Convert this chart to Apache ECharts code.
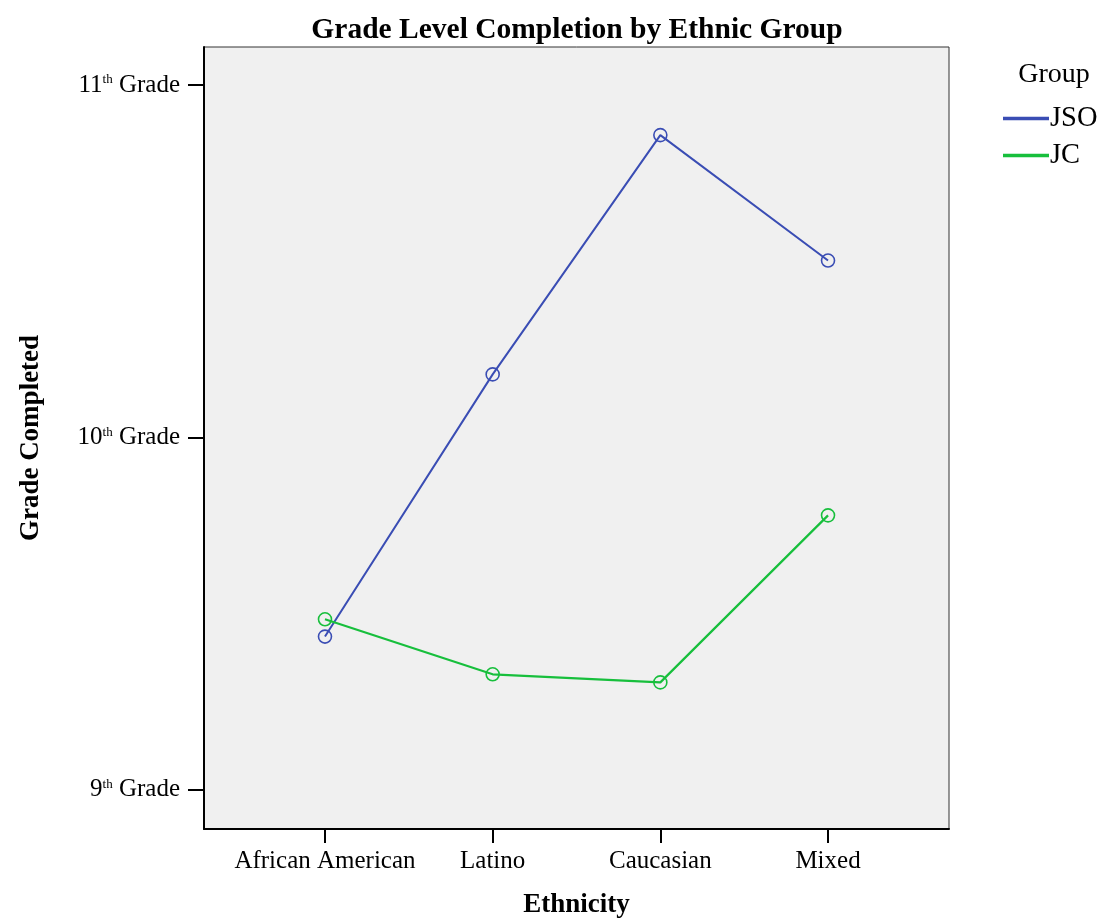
<!DOCTYPE html>
<html>
<head>
<meta charset="utf-8">
<script src="https://cdn.jsdelivr.net/npm/echarts@6/dist/echarts.min.js"></script>
<style>
  html, body { margin: 0; padding: 0; background: #fff; }
  #chart { width: 1102px; height: 919px; }
</style>
</head>
<body>
<div id="chart"></div>
<script>
var categories = ['African American', 'Latino', 'Caucasian', 'Mixed'];
var gradeTicks = [9, 10, 11];
var jsoValues = [9.435, 10.179, 10.858, 10.502];
var jcValues = [9.484, 9.328, 9.305, 9.779];

var serif = '"Liberation Serif", "Times New Roman", serif';
var blue = '#3a4db4';
var green = '#17bf3c';

function toPoints(values) {
    return values.map(function (v, i) { return [i, v]; });
}

var chartDom = document.getElementById('chart');
var myChart = echarts.init(chartDom);
var option = {
    backgroundColor: '#fff',
    animation: false,
    title: [
        {
            text: 'Grade Level Completion by Ethnic Group',
            left: 572,
            top: 10,
            textAlign: 'center',
            textStyle: { fontFamily: serif, fontWeight: 'bold', fontSize: 29.5, color: '#000' }
        },
        {
            text: 'Group',
            left: 1049,
            top: 56,
            textAlign: 'center',
            textStyle: { fontFamily: serif, fontWeight: 'normal', fontSize: 28, color: '#000' }
        }
    ],
    legend: {
        orient: 'vertical',
        left: 998,
        top: 99,
        itemWidth: 44,
        itemHeight: 1.6,
        itemGap: 8,
        icon: 'rect',
        textStyle: { fontFamily: serif, fontSize: 28.5, color: '#000', padding: [0, 0, 0, -3] },
        data: [
            { name: 'JSO', itemStyle: { color: blue } },
            { name: 'JC', itemStyle: { color: green } }
        ]
    },
    grid: {
        left: 204,
        right: 153,
        top: 47,
        bottom: 90,
        outerBoundsMode: 'none',
        containLabel: false,
        show: true,
        backgroundColor: '#f0f0f0',
        borderColor: '#333',
        borderWidth: 1
    },
    xAxis: {
        type: 'value',
        min: -0.7215,
        max: 3.7215,
        name: 'Ethnicity',
        nameLocation: 'middle',
        nameGap: 63,
        nameTextStyle: { fontFamily: serif, fontWeight: 'bold', fontSize: 27, color: '#000' },
        splitLine: { show: false },
        axisLine: { show: true, onZero: false, lineStyle: { color: '#000', width: 2 } },
        axisTick: {
            show: true,
            length: 14,
            customValues: [0, 1, 2, 3],
            lineStyle: { color: '#000', width: 2 }
        },
        axisLabel: {
            customValues: [0, 1, 2, 3],
            margin: 20,
            fontFamily: serif,
            fontSize: 25,
            color: '#000',
            formatter: function (v) { return categories[Math.round(v)]; }
        }
    },
    yAxis: {
        type: 'value',
        min: 8.889,
        max: 11.108,
        name: 'Grade Completed',
        nameLocation: 'middle',
        nameGap: 159,
        nameRotate: 90,
        nameTextStyle: { fontFamily: serif, fontWeight: 'bold', fontSize: 27, color: '#000' },
        splitLine: { show: false },
        axisLine: { show: true, onZero: false, lineStyle: { color: '#000', width: 2 } },
        axisTick: {
            show: true,
            length: 16,
            customValues: gradeTicks,
            lineStyle: { color: '#000', width: 2 }
        },
        axisLabel: {
            customValues: gradeTicks,
            margin: 24,
            fontFamily: serif,
            color: '#000',
            formatter: function (v) {
                return '{n|' + Math.round(v) + '}{s|th}{n| Grade}';
            },
            rich: {
                n: { fontFamily: serif, fontSize: 25, color: '#000' },
                s: { fontFamily: serif, fontSize: 13, color: '#000', padding: [0, 0, 10, 0] }
            }
        }
    },
    series: [
        {
            name: 'JSO',
            type: 'line',
            data: toPoints(jsoValues),
            symbol: 'circle',
            symbolSize: 13,
            color: blue,
            lineStyle: { width: 2, color: blue },
            itemStyle: { color: 'rgba(0,0,0,0)', borderColor: blue, borderWidth: 1.6 }
        },
        {
            name: 'JC',
            type: 'line',
            data: toPoints(jcValues),
            symbol: 'circle',
            symbolSize: 13,
            color: green,
            lineStyle: { width: 2.2, color: green },
            itemStyle: { color: 'rgba(0,0,0,0)', borderColor: green, borderWidth: 1.6 }
        }
    ]
};

option && myChart.setOption(option);
</script>
</body>
</html>
